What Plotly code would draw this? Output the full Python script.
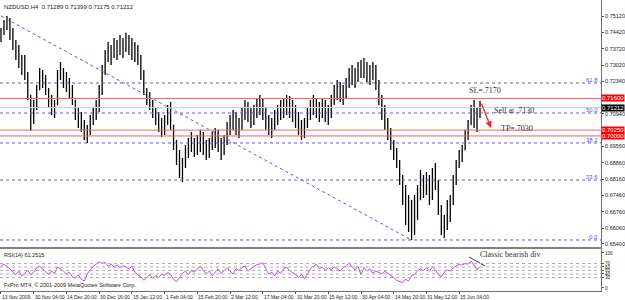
import plotly.graph_objects as go

# ---------------- data ----------------
bars = list(range(162))
high = [.7461, .7495, .7512, .7504, .7461, .7410, .7388, .7346, .7346, .7273,
        .7175, .7154, .7218, .7290, .7282, .7260, .7205, .7175, .7154, .7282,
        .7316, .7290, .7273, .7247, .7218, .7154, .7119, .7102, .7068, .7047,
        .7090, .7119, .7154, .7218, .7303, .7367, .7401, .7388, .7418, .7410,
        .7431, .7418, .7440, .7431, .7418, .7401, .7388, .7346, .7282, .7205,
        .7188, .7154, .7119, .7102, .7077, .7090, .7132, .7145, .7047, .6983,
        .6940, .6906, .6961, .6991, .7017, .6991, .7004, .7026, .7017, .6983,
        .6991, .7017, .7034, .7026, .6991, .7004, .7060, .7090, .7111, .7102,
        .7077, .7119, .7154, .7145, .7119, .7132, .7162, .7175, .7162, .7119,
        .7090, .7077, .7111, .7132, .7154, .7162, .7175, .7171, .7154, .7132,
        .7102, .7068, .7077, .7119, .7154, .7175, .7162, .7145, .7162, .7154,
        .7132, .7175, .7218, .7239, .7230, .7218, .7247, .7290, .7303, .7290,
        .7316, .7324, .7333, .7316, .7303, .7316, .7303, .7239, .7175, .7132,
        .7077, .7034, .6983, .6949, .6897, .6833, .6791, .6748, .6727, .6748,
        .6791, .6855, .6833, .6846, .6833, .6863, .6885, .6812, .6705, .6663,
        .6727, .6748, .6833, .6897, .6940, .6961, .7026, .7068, .7132, .7154,
        .7119, .7149]
low = [.7401, .7431, .7452, .7410, .7367, .7324, .7290, .7260, .7239, .7154,
       .7021, .7051, .7111, .7196, .7205, .7175, .7119, .7090, .7077, .7132,
       .7239, .7205, .7188, .7162, .7132, .7068, .7034, .7017, .6983, .6970,
       .7004, .7047, .7068, .7102, .7175, .7260, .7316, .7303, .7333, .7324,
       .7346, .7333, .7358, .7346, .7324, .7316, .7303, .7239, .7175, .7132,
       .7111, .7077, .7047, .7017, .6996, .7004, .7047, .7026, .6940, .6876,
       .6821, .6804, .6863, .6906, .6932, .6910, .6919, .6932, .6919, .6897,
       .6906, .6940, .6949, .6932, .6897, .6919, .6961, .7004, .7026, .7004,
       .6991, .7026, .7068, .7060, .7034, .7047, .7077, .7090, .7068, .7026,
       .7004, .6991, .7026, .7047, .7068, .7077, .7090, .7077, .7060, .7034,
       .7004, .6983, .6991, .7034, .7068, .7090, .7077, .7060, .7077, .7060,
       .7047, .7077, .7132, .7154, .7145, .7132, .7162, .7205, .7218, .7205,
       .7230, .7247, .7247, .7230, .7218, .7239, .7196, .7132, .7068, .7026,
       .6983, .6940, .6897, .6863, .6791, .6705, .6620, .6590, .6556, .6577,
       .6641, .6727, .6735, .6748, .6705, .6727, .6769, .6663, .6577, .6565,
       .6599, .6633, .6705, .6791, .6863, .6889, .6940, .6983, .7047, .7034,
       .7017, .7077]
close = [.7444, .7474, .7486, .7431, .7388, .7346, .7324, .7316, .7260, .7175,
         .7077, .7132, .7196, .7260, .7239, .7196, .7154, .7111, .7132, .7260,
         .7273, .7239, .7218, .7188, .7154, .7090, .7068, .7034, .7004, .7026,
         .7068, .7090, .7132, .7196, .7282, .7346, .7367, .7346, .7388, .7375,
         .7401, .7367, .7410, .7388, .7367, .7346, .7324, .7260, .7196, .7175,
         .7132, .7102, .7077, .7047, .7034, .7068, .7111, .7047, .6961, .6906,
         .6855, .6876, .6940, .6961, .6983, .6949, .6961, .6991, .6940, .6932,
         .6961, .6983, .7004, .6961, .6940, .6983, .7034, .7068, .7077, .7047,
         .7047, .7102, .7132, .7090, .7068, .7111, .7145, .7154, .7102, .7060,
         .7034, .7047, .7090, .7111, .7119, .7132, .7154, .7111, .7102, .7068,
         .7026, .7017, .7047, .7102, .7132, .7154, .7119, .7111, .7132, .7090,
         .7111, .7154, .7196, .7205, .7188, .7175, .7230, .7260, .7273, .7247,
         .7282, .7303, .7282, .7260, .7273, .7290, .7218, .7154, .7111, .7047,
         .7017, .6961, .6919, .6876, .6812, .6748, .6684, .6641, .6663, .6705,
         .6727, .6812, .6791, .6812, .6748, .6833, .6791, .6684, .6607, .6620,
         .6684, .6727, .6804, .6876, .6919, .6940, .7004, .7047, .7111, .7077,
         .7090, .71212]
first_open = 0.7452

rsi = [62, 68, 60, 55, 45, 38, 48, 35, 42, 50, 38, 45, 58, 62, 55, 45, 38, 48, 42, 60,
       55, 48, 40, 45, 32, 28, 38, 25, 20, 40, 52, 62, 68, 75, 70, 73, 62, 68, 60, 66,
       58, 64, 60, 55, 62, 45, 38, 32, 22, 30, 38, 28, 35, 30, 40, 35, 45, 38, 25, 18,
       30, 42, 48, 38, 50, 45, 55, 63, 50, 40, 48, 35, 45, 55, 42, 50, 58, 48, 40, 55,
       50, 58, 63, 48, 55, 62, 66, 70, 72, 55, 40, 45, 35, 48, 42, 55, 60, 50, 45, 38,
       30, 40, 26, 42, 55, 62, 68, 55, 60, 50, 58, 52, 60, 55, 48, 58, 62, 72, 60, 52,
       62, 38, 58, 48, 55, 42, 48, 45, 40, 48, 42, 38, 30, 22, 18, 15, 25, 20, 35, 40,
       48, 55, 50, 58, 48, 60, 52, 38, 32, 45, 52, 48, 58, 62, 68, 65, 70, 68, 77, 65,
       52, 61.25]

fib_low, fib_high = 0.6556, 0.7640
fib_ratios = [0.0, 23.6, 38.2, 50.0, 61.8]
order_levels = [0.7160, 0.7025, 0.7000]
bid_price = 0.71212
trend_x = [0, 138]
trend_y = [0.7512, 0.6556]
rsi_div_x = [157.3, 162.7]
rsi_div_y = [88.6, 62.9]
arrow_from = (161.3, 0.7145)
arrow_to = (164.7, 0.7034)

price_tick_vals = [0.7512, 0.7442, 0.7372, 0.7302, 0.7234, 0.7094, 0.6956,
                   0.6886, 0.6816, 0.6746, 0.6676, 0.6606, 0.6540]
price_tick_text = ["0.75120", "0.74420", "0.73720", "0.73020", "0.72340", "0.70940",
                   "0.69560", "0.68860", "0.68160", "0.67460", "0.66760", "0.66060",
                   "0.65400"]
time_tick_pos = [0, 11, 22, 33, 44, 55, 66, 77, 88, 99, 110, 121, 132, 143, 154]
time_tick_labels = ["13 Nov 2009", "30 Nov 04:00", "14 Dec 20:00", "30 Dec 16:00",
                    "15 Jan 12:00", "1 Feb 04:00", "15 Feb 20:00", "2 Mar 12:00",
                    "17 Mar 04:00", "31 Mar 20:00", "15 Apr 12:00", "30 Apr 04:00",
                    "14 May 20:00", "31 May 12:00", "15 Jun 04:00"]
rsi_levels = [30, 40, 50, 60, 70]
rsi_tick_vals = [0, 30, 40, 50, 60, 70, 100]

# ---------------- figure ----------------
opens = [first_open] + close[:-1]
FONT = "Liberation Sans"
SERIF = "Liberation Serif"
FIB_COLOR = "#5a5ad0"

fig = go.Figure()

fig.add_trace(go.Ohlc(x=bars, open=opens, high=high, low=low, close=close,
                      increasing=dict(line=dict(color="black", width=1.3)),
                      decreasing=dict(line=dict(color="black", width=1.3)),
                      tickwidth=0.15, xaxis="x", yaxis="y", hoverinfo="skip",
                      showlegend=False))

fig.add_trace(go.Scatter(x=trend_x, y=trend_y, mode="lines",
                         line=dict(color=FIB_COLOR, width=1, dash="dot"),
                         xaxis="x", yaxis="y", showlegend=False, hoverinfo="skip"))

fig.add_trace(go.Scatter(x=bars, y=rsi, mode="lines",
                         line=dict(color="#b850d0", width=1),
                         xaxis="x2", yaxis="y2", showlegend=False, hoverinfo="skip"))

fig.add_trace(go.Scatter(x=rsi_div_x, y=rsi_div_y, mode="lines",
                         line=dict(color="#333333", width=1),
                         xaxis="x2", yaxis="y2", showlegend=False, hoverinfo="skip"))

shapes = []
annotations = []

# bid line
shapes.append(dict(type="line", xref="x domain", yref="y", x0=0, x1=1,
                   y0=bid_price, y1=bid_price, line=dict(color="#d0d0d0", width=1)))
# fibonacci levels
for r in fib_ratios:
    p = fib_low + r / 100.0 * (fib_high - fib_low)
    shapes.append(dict(type="line", xref="x domain", yref="y", x0=0, x1=1,
                       y0=p, y1=p, line=dict(color=FIB_COLOR, width=1, dash="dot")))
    annotations.append(dict(x=0.998, xref="x domain", y=p, yref="y", text=f"{r:.1f}",
                            showarrow=False, xanchor="right", yanchor="bottom",
                            font=dict(family=FONT, size=6, color=FIB_COLOR), yshift=-2))
# order levels
for p in order_levels:
    shapes.append(dict(type="line", xref="x domain", yref="y", x0=0, x1=1,
                       y0=p, y1=p, line=dict(color="#f06464", width=1)))
    annotations.append(dict(x=1, xref="paper", y=p, yref="y", text=f"{p:.5f}",
                            showarrow=False, xanchor="left", yanchor="middle",
                            bgcolor="#ff0000", borderpad=0,
                            font=dict(family=FONT, size=6, color="white")))
annotations.append(dict(x=1, xref="paper", y=bid_price, yref="y", text=f"{bid_price:.5f}",
                        showarrow=False, xanchor="left", yanchor="middle",
                        bgcolor="#000000", borderpad=0,
                        font=dict(family=FONT, size=6, color="white")))

# RSI levels
for lv in rsi_levels:
    shapes.append(dict(type="line", xref="x2 domain", yref="y2", x0=0, x1=1,
                       y0=lv, y1=lv, line=dict(color="#b0b0b0", width=1, dash="dot")))

# trade arrow
annotations.append(dict(x=arrow_to[0], y=arrow_to[1], xref="x", yref="y",
                        ax=arrow_from[0], ay=arrow_from[1], axref="x", ayref="y",
                        showarrow=True, arrowhead=2, arrowsize=1, arrowwidth=1.3,
                        arrowcolor="#ff2020", text=""))
annotations.append(dict(x=162.7, y=0.7192, xref="x", yref="y", text="SL=.7170",
                        showarrow=False, font=dict(family=SERIF, size=8, color="#333333")))
annotations.append(dict(x=165.0, y=0.7109, xref="x", yref="y", text="Sell at .7130",
                        showarrow=False, xanchor="left",
                        font=dict(family=SERIF, size=8, color="#333333")))
annotations.append(dict(x=167.3, y=0.7030, xref="x", yref="y", text="TP=.7030",
                        showarrow=False, xanchor="left",
                        font=dict(family=SERIF, size=8, color="#333333")))
annotations.append(dict(x=160.3, y=95.5, xref="x2", yref="y2", text="Classic bearish div",
                        showarrow=False, xanchor="left",
                        font=dict(family=SERIF, size=8, color="#333333")))

# header / labels
annotations.append(dict(x=0.004, y=1, xref="paper", yref="paper",
                        text="NZDUSD,H4  0.71289 0.71399 0.71175 0.71212",
                        showarrow=False, xanchor="left", yanchor="top", yshift=-2,
                        font=dict(family=FONT, size=6, color="#222222")))
annotations.append(dict(x=0.004, y=1, xref="x2 domain", yref="y2 domain",
                        text="RSI(14) 61.2515", showarrow=False, xanchor="left",
                        yanchor="top", yshift=-1,
                        font=dict(family=FONT, size=5.5, color="#222222")))
annotations.append(dict(x=0.004, y=0, xref="x2 domain", yref="y2 domain",
                        text="FxPro MT4, \u00a9 2001-2009 MetaQuotes Software Corp.",
                        showarrow=False, xanchor="left", yanchor="bottom", yshift=1,
                        font=dict(family=FONT, size=5.5, color="#222222")))
for pos, lab in zip(time_tick_pos, time_tick_labels):
    annotations.append(dict(x=pos, xref="x2", y=0, yref="paper", text=lab,
                            showarrow=False, xanchor="left", yanchor="top", yshift=-1,
                            xshift=-1, font=dict(family=FONT, size=5, color="#222222")))

xr = [-1 / 3, 604 / 3 + 1 / 3]
fig.update_layout(
    width=625, height=300,
    margin=dict(l=0, r=20, t=0, b=9),
    paper_bgcolor="white", plot_bgcolor="white",
    showlegend=False, hovermode=False,
    shapes=shapes, annotations=annotations,
    xaxis=dict(domain=[0, 1], anchor="y", range=xr, showgrid=False, zeroline=False,
               showticklabels=False, rangeslider=dict(visible=False),
               showline=True, linecolor="#808080", linewidth=2, ticks=""),
    yaxis=dict(domain=[1 - 247 / 291, 1], anchor="x", side="right",
               range=[0.65261, 0.75803], showgrid=False, zeroline=False,
               tickvals=price_tick_vals, ticktext=price_tick_text,
               tickfont=dict(family=FONT, size=5.5, color="#222222"),
               ticks="outside", ticklen=2, tickcolor="#555555",
               showline=True, linecolor="#707070", linewidth=1),
    xaxis2=dict(domain=[0, 1], anchor="y2", range=xr, matches="x", showgrid=False,
                zeroline=False, showticklabels=False, tickvals=time_tick_pos,
                ticks="outside", ticklen=2, tickcolor="#555555",
                showline=True, linecolor="#707070", linewidth=1),
    yaxis2=dict(domain=[0, 1 - 249 / 291], anchor="x2", side="right",
                range=[-8.6, 111.4], showgrid=False, zeroline=False,
                tickvals=rsi_tick_vals, ticktext=[str(v) for v in rsi_tick_vals],
                tickfont=dict(family=FONT, size=4.5, color="#222222"),
                ticks="outside", ticklen=2, tickcolor="#555555",
                showline=True, linecolor="#707070", linewidth=1),
)

fig.write_html("out.html")
